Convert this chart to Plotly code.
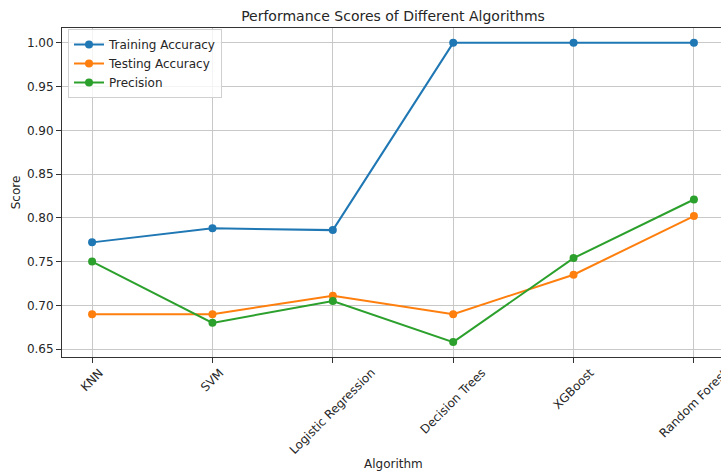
import plotly.graph_objects as go

algorithms = ["KNN", "SVM", "Logistic Regression", "Decision Trees", "XGBoost", "Random Forest"]
training_accuracy = [0.772, 0.788, 0.786, 1.000, 1.000, 1.000]
testing_accuracy = [0.690, 0.690, 0.711, 0.690, 0.735, 0.802]
precision = [0.750, 0.680, 0.705, 0.658, 0.754, 0.821]
y_ticks = [0.65, 0.70, 0.75, 0.80, 0.85, 0.90, 0.95, 1.00]

series = [
    ("Training Accuracy", training_accuracy, "#1f77b4"),
    ("Testing Accuracy", testing_accuracy, "#ff7f0e"),
    ("Precision", precision, "#2ca02c"),
]

FONT = "DejaVu Sans"
fig = go.Figure()
for name, vals, color in series:
    fig.add_trace(go.Scatter(
        x=algorithms, y=vals, name=name, mode="lines+markers",
        line=dict(color=color, width=2), marker=dict(color=color, size=8),
    ))

W, H = 721, 473
L, R, T, B = 62, 0, 28, 116
plot_h = H - T - B

annotations = []
for a in algorithms:
    annotations.append(dict(
        x=a, xref="x", y=(357 - 363) / plot_h, yref="paper",
        text=a, showarrow=False, textangle=-45,
        xanchor="center", yanchor="top",
        font=dict(family=FONT, size=12, color="#262626"),
    ))
annotations.append(dict(
    x=(393 - L) / (W - L - R), xref="paper", y=(357 - 464) / plot_h, yref="paper",
    text="Algorithm", showarrow=False, xanchor="center", yanchor="middle",
    font=dict(family=FONT, size=12, color="#262626"),
))

fig.update_layout(
    width=W, height=H,
    margin=dict(l=L, r=R, t=T, b=B),
    paper_bgcolor="white", plot_bgcolor="white",
    font=dict(family=FONT, size=12, color="#262626"),
    title=dict(text="Performance Scores of Different Algorithms",
               x=(393) / W, xanchor="center", y=1 - 16 / H, yanchor="middle",
               font=dict(family=FONT, size=14, color="#262626")),
    showlegend=True,
    legend=dict(x=(68 - L) / (W - L - R), y=(357 - 29) / plot_h,
                xanchor="left", yanchor="top",
                bgcolor="rgba(255,255,255,0.8)", bordercolor="#d0d0d0", borderwidth=1,
                font=dict(family=FONT, size=12, color="#262626"),
                tracegroupgap=0, itemwidth=30),
    annotations=annotations,
)
fig.update_xaxes(
    type="category", range=[-0.25, 5.225],
    showgrid=True, gridcolor="#c8c8c8", gridwidth=1,
    showline=True, linecolor="#333333", linewidth=1, mirror=True,
    ticks="outside", ticklen=5, tickcolor="#333333",
    showticklabels=False, zeroline=False,
)
fig.update_yaxes(
    range=[0.641, 1.017], tickvals=y_ticks, tickformat=".2f",
    showgrid=True, gridcolor="#c8c8c8", gridwidth=1,
    showline=True, linecolor="#333333", linewidth=1,
    ticks="outside", ticklen=5, tickcolor="#333333",
    tickfont=dict(family=FONT, size=12, color="#262626"),
    title=dict(text="Score", standoff=3, font=dict(family=FONT, size=12, color="#262626")),
    zeroline=False,
)

fig.write_html("out.html", config={"displayModeBar": False},
               post_script="document.body.style.margin='0';document.body.style.overflow='hidden';")
